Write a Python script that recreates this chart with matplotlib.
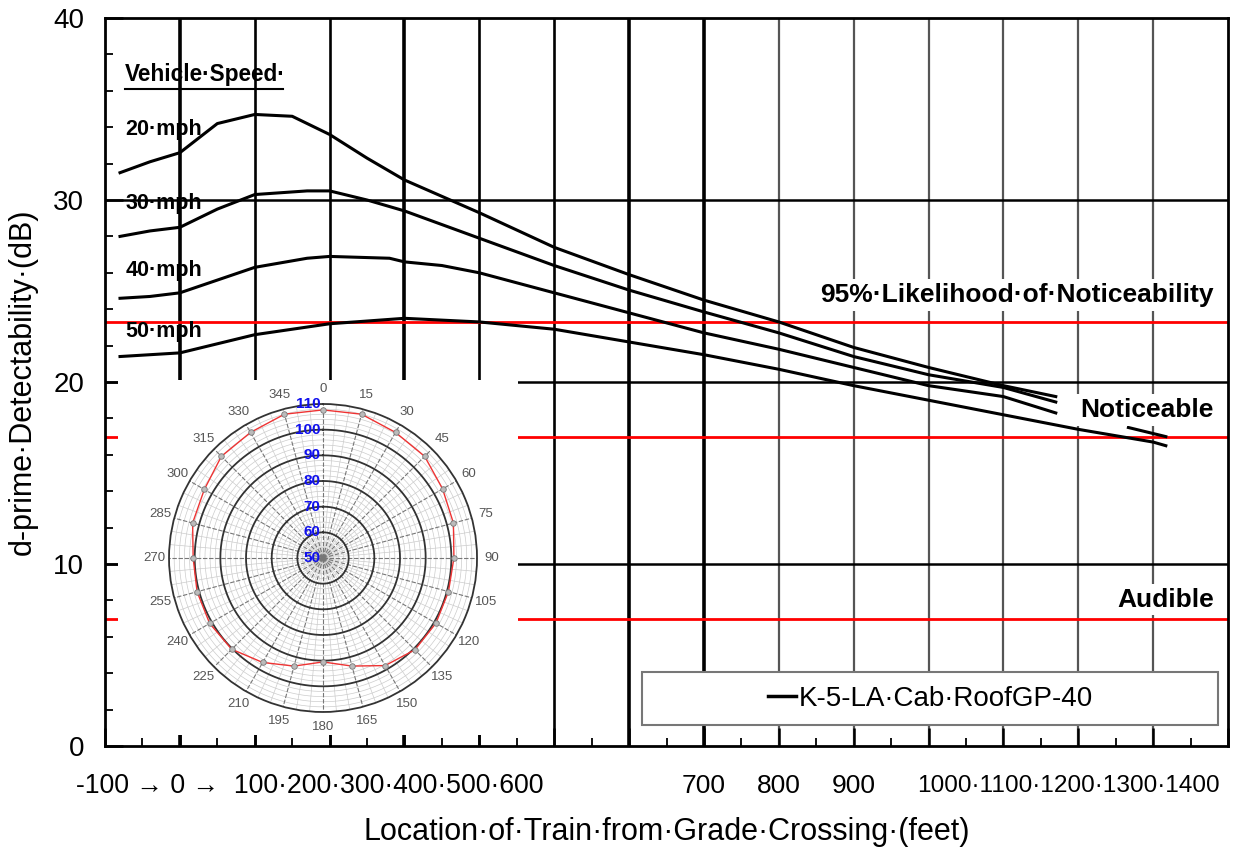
import numpy as np
import matplotlib.pyplot as plt
from matplotlib.patches import Rectangle
from matplotlib.lines import Line2D

plt.rcParams['font.family'] = ['Liberation Sans', 'DejaVu Sans']

# --- data (feet, dB) ---
dist_20 = [-80, -40, 0, 50, 100, 150, 200, 250, 300, 400, 500, 600, 700, 800, 900, 1000, 1100, 1170]
db_20 = [31.5, 32.1, 32.6, 34.2, 34.7, 34.6, 33.6, 32.3, 31.1, 29.3, 27.4, 25.9, 24.5, 23.3, 21.9, 20.8, 19.8, 19.2]

dist_30 = [-80, -40, 0, 50, 100, 170, 200, 250, 300, 400, 500, 600, 700, 800, 900, 1000, 1100, 1170]
db_30 = [28.0, 28.3, 28.5, 29.5, 30.3, 30.5, 30.5, 30.0, 29.4, 27.9, 26.4, 25.05, 23.85, 22.7, 21.4, 20.4, 19.7, 18.9]

dist_40 = [-80, -40, 0, 50, 100, 170, 200, 280, 300, 350, 400, 500, 600, 700, 800, 900, 1000, 1100, 1170,
           np.nan, 1267, 1317]
db_40 = [24.6, 24.7, 24.9, 25.6, 26.3, 26.8, 26.9, 26.8, 26.6, 26.4, 26.0, 24.9, 23.8, 22.7, 21.8, 20.8, 19.8, 19.2, 18.3,
         np.nan, 17.5, 17.0]

dist_50 = [-80, -40, 0, 100, 200, 300, 400, 500, 600, 700, 800, 900, 1000, 1100, 1200, 1300, 1317]
db_50 = [21.4, 21.5, 21.6, 22.6, 23.2, 23.5, 23.3, 22.9, 22.2, 21.5, 20.7, 19.8, 19.0, 18.2, 17.4, 16.7, 16.5]

speeds = ["20·mph", "30·mph", "40·mph", "50·mph"]
thresholds = [23.3, 17.0, 7.0]
threshold_names = ["95%·Likelihood·of·Noticeability", "Noticeable", "Audible"]
legend_label = "K-5-LA·Cab·RoofGP-40"

xtick_left = "-100 \u2192 0 \u2192  100·200·300·400·500·600"
xtick_mid = ["700", "800", "900"]
xtick_right = "1000·1100·1200·1300·1400"

# polar inset (directivity pattern)
polar_deg = [0, 15, 30, 45, 60, 75, 90, 105, 120, 135, 150, 165, 180,
             195, 210, 225, 240, 255, 270, 285, 300, 315, 330, 345]
polar_level = [107.7, 108.0, 106.5, 106.0, 103.8, 102.6, 101.0, 100.6, 100.8, 100.6, 98.4, 93.6, 90.5,
               93.6, 97.0, 100.3, 101.0, 100.8, 100.6, 102.6, 103.4, 106.0, 106.5, 108.0]
polar_rings = [50, 60, 70, 80, 90, 100, 110]

# --- main chart ---
fig = plt.figure(figsize=(12.52, 8.57), dpi=100)
ax = fig.add_axes([0.0839, 0.1295, 0.8969, 0.8495])
ax.set_xlim(-100, 1400)
ax.set_ylim(0, 40)

# grid lines
for x in range(0, 1400, 100):
    if x in (0, 300, 600, 700):
        ax.axvline(x, color='black', lw=2.6, zorder=1)
    elif x < 800:
        ax.axvline(x, color='black', lw=1.9, zorder=1)
    else:
        ax.axvline(x, color='#555555', lw=1.6, zorder=1)
for y in (10, 20, 30):
    ax.axhline(y, color='black', lw=1.8, zorder=1)
for t in thresholds:
    ax.axhline(t, color='#ff0000', lw=2.0, zorder=1.5)

# white area behind the inset
ax.add_patch(Rectangle((-82.6, 0.6), 534.2, 19.52, facecolor='white', edgecolor='none', zorder=2))

# curves
ax.plot(dist_20, db_20, color='black', lw=2.2, zorder=3)
ax.plot(dist_30, db_30, color='black', lw=2.2, zorder=3)
ax.plot(dist_40, db_40, color='black', lw=2.2, zorder=3)
ax.plot(dist_50, db_50, color='black', lw=2.2, zorder=3)

# speed labels
ax.text(-73, 36.9, "Vehicle·Speed·", fontsize=16.3, fontweight='bold', va='center',
        ha='left', zorder=4)
ax.plot([-73, 138], [36.1, 36.1], color='black', lw=1.5, zorder=4, clip_on=False)
for lab, yy in zip(speeds, [33.9, 29.8, 26.1, 22.8]):
    ax.text(-73, yy, lab, fontsize=15.5, fontweight='bold', va='center', ha='left', zorder=4)

# threshold labels
for name, yy in zip(threshold_names, [24.8, 18.45, 8.05]):
    ax.text(1381, yy, name, fontsize=19, fontweight='bold', va='center', ha='right', zorder=4,
            bbox=dict(boxstyle='square,pad=0.15', facecolor='white', edgecolor='none'))

# legend box
ax.add_patch(Rectangle((617, 1.15), 770, 2.9, facecolor='white', edgecolor='#777777',
                       lw=1.5, zorder=4))
ax.legend([Line2D([], [], color='black', lw=2.5)], [legend_label], loc='center',
          bbox_to_anchor=(1003, 2.6), bbox_transform=ax.transData, frameon=False,
          fontsize=20, handlelength=1.0, handletextpad=0.1)

# axes styling
for s in ax.spines.values():
    s.set_linewidth(2.0)
    s.set_zorder(5)
ax.set_xticks(range(-100, 1401, 100))
ax.set_xticks(range(-50, 1400, 100), minor=True)
ax.set_xticklabels(["" if str(v) not in xtick_mid else str(v) for v in range(-100, 1401, 100)])
ax.set_yticks([0, 10, 20, 30, 40])
ax.set_yticks(np.arange(0, 40, 2), minor=True)
ax.tick_params(which='major', direction='in', length=13, width=1.8, labelsize=19)
ax.tick_params(which='minor', direction='in', length=6, width=1.3)
ax.tick_params(axis='x', pad=20)
ax.tick_params(axis='y', pad=15, labelsize=20)

trans = ax.get_xaxis_transform()
ax.text(-138.7, -0.055, xtick_left, transform=trans, fontsize=19.2, ha='left', va='center')
ax.text(985, -0.055, xtick_right, transform=trans, fontsize=17.6, ha='left', va='center')

ax.set_xlabel("Location·of·Train·from·Grade·Crossing·(feet)", fontsize=22, labelpad=14)
ax.set_ylabel("d-prime·Detectability·(dB)", fontsize=22, labelpad=11)

# --- polar inset ---
pax = fig.add_axes([0.1350, 0.1692, 0.2460, 0.3594], projection='polar')
pax.set_theta_zero_location('N')
pax.set_theta_direction(-1)
pax.set_rlim(50, 110)
full = np.linspace(0, 2 * np.pi, 361)
for r in np.arange(52, 110, 2):
    pax.plot(full, np.full_like(full, r), color='#cccccc', lw=0.5, zorder=1)
for r in polar_rings[1:-1]:
    pax.plot(full, np.full_like(full, r), color='#333333', lw=1.3, zorder=2)
for a in range(0, 360, 5):
    th = np.deg2rad(a)
    if a % 15 == 0:
        pax.plot([th, th], [50, 110], color='#777777', lw=0.8, ls=(0, (4, 1.5)), zorder=1.5)
    else:
        pax.plot([th, th], [50, 110], color='#cccccc', lw=0.5, zorder=1)
th = np.deg2rad(polar_deg + [polar_deg[0]])
rv = polar_level + [polar_level[0]]
pax.plot(th, rv, color='#ee3333', lw=1.0, zorder=3)
pax.plot(th[:-1], rv[:-1], ls='none', marker='o', ms=4, mfc='#bbbbbb', mec='#777777', mew=0.6, zorder=4)
pax.set_thetagrids(polar_deg, [str(d) for d in polar_deg], fontsize=9.5, color='#555555')
pax.tick_params(axis='x', pad=0)
pax.grid(False)
pax.set_yticks(polar_rings)
pax.set_yticklabels([])
for r in polar_rings:
    pax.annotate(str(r), xy=(0, r), xytext=(-2, 0), textcoords='offset points', ha='right',
                 va='center', fontsize=11, fontweight='bold', color='#1010ee', zorder=5)
pax.spines['polar'].set_linewidth(1.3)
pax.spines['polar'].set_color('#333333')

fig.savefig('out.png', dpi=100)
